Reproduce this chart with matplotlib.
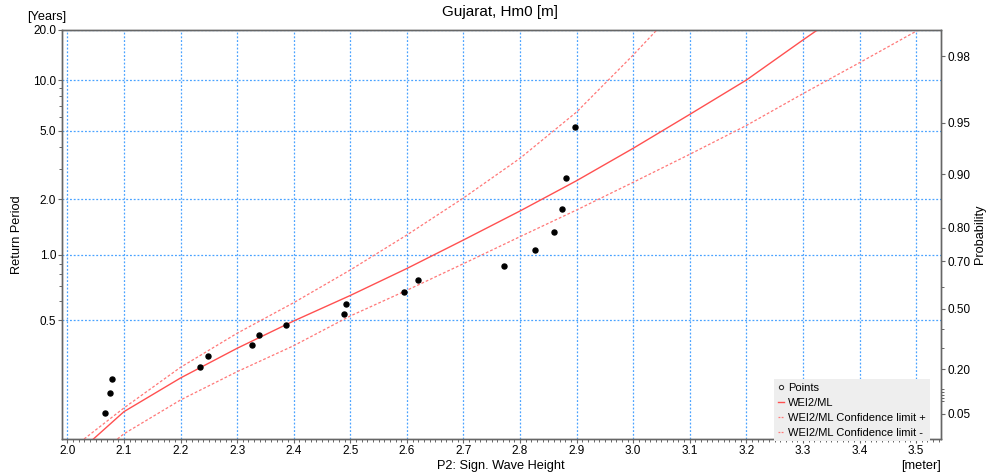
import numpy as np
import matplotlib
matplotlib.use("Agg")
import matplotlib.pyplot as plt
from matplotlib.lines import Line2D
from matplotlib.ticker import FixedLocator, FormatStrFormatter, MultipleLocator, NullFormatter

plt.rcParams['font.family'] = ['Liberation Sans', 'DejaVu Sans']

# 18 peaks in 5 years -> 3.6 events per year
EVENTS_PER_YEAR = 3.6

# observed peaks [m] and their return periods [years]
point_height = [2.067, 2.076, 2.078, 2.235, 2.248, 2.326, 2.338, 2.387, 2.488,
                2.493, 2.595, 2.619, 2.772, 2.827, 2.860, 2.874, 2.881, 2.897]
point_period = [0.293, 0.311, 0.330, 0.352, 0.377, 0.406, 0.440, 0.480, 0.528,
                0.586, 0.660, 0.754, 0.880, 1.056, 1.319, 1.759, 2.639, 5.278]

# WEI2/ML fit
fit_height = [2.046, 2.1, 2.2, 2.3, 2.4, 2.5, 2.6, 2.7, 2.8, 2.9, 3.0, 3.1, 3.2, 3.3, 3.3255]
fit_period = [0.2817, 0.2937, 0.3315, 0.3973, 0.4965, 0.6362, 0.8542, 1.197, 1.722,
              2.554, 3.936, 6.24, 10.0, 17.41, 20.0]

# confidence limits
upper_height = [2.0295, 2.1, 2.2, 2.3, 2.4, 2.5, 2.6, 2.7, 2.8, 2.9, 3.0, 3.0417]
upper_period = [0.2817, 0.2964, 0.3510, 0.4464, 0.5912, 0.8397, 1.273, 2.036, 3.441,
                6.447, 14.14, 20.0]
lower_height = [2.0884, 2.1, 2.2, 2.3, 2.4, 2.5, 2.6, 2.7, 2.8, 2.9, 3.0, 3.1, 3.2,
                3.3, 3.4, 3.5, 3.5041]
lower_period = [0.2817, 0.2831, 0.3033, 0.3425, 0.4049, 0.5198, 0.6718, 0.9027, 1.247,
                1.744, 2.500, 3.631, 5.361, 8.289, 12.71, 19.65, 20.0]

period_major = [0.5, 1.0, 2.0, 5.0, 10.0, 20.0]
period_minor = [0.6, 0.7, 0.8, 0.9, 3.0, 4.0, 6.0, 7.0, 8.0, 9.0]
prob_major = [0.05, 0.20, 0.50, 0.70, 0.80, 0.90, 0.95, 0.98]
prob_minor = [0.08, 0.09, 0.10, 0.11, 0.12, 0.30, 0.40, 0.60]

T_MIN, T_MAX = 0.2817, 20.0


def gumbel_fwd(p):
    p = np.clip(np.asarray(p, dtype=float), 1e-12, 1 - 1e-12)
    return -np.log(-np.log(p))


def gumbel_inv(u):
    return np.exp(-np.exp(-np.asarray(u, dtype=float)))


def period_to_prob(t):
    t = np.clip(np.asarray(t, dtype=float), 1.0 / EVENTS_PER_YEAR * (1 + 1e-9), None)
    return 1.0 - 1.0 / (EVENTS_PER_YEAR * t)


def prob_to_period(p):
    p = np.clip(np.asarray(p, dtype=float), None, 1 - 1e-12)
    return 1.0 / (EVENTS_PER_YEAR * (1.0 - p))


def period_fwd(t):
    return gumbel_fwd(period_to_prob(t))


def period_inv(u):
    return prob_to_period(gumbel_inv(u))


fit_col = '#ff5050'
cl_col = '#ff7878'
grid_col = '#4aa3ff'
spine_col = '#666666'

fig = plt.figure(figsize=(9.98, 4.75), dpi=100)
ax = fig.add_axes([62.3 / 998, 1 - 439 / 475, (941 - 62.3) / 998, (439 - 30) / 475])

ax.set_yscale('function', functions=(period_fwd, period_inv))
ax.set_xlim(1.991, 3.544)
ax.set_ylim(T_MIN, T_MAX)

ax.plot(upper_height, upper_period, color=cl_col, lw=0.9, ls=(0, (2.2, 1.6)), zorder=3)
ax.plot(lower_height, lower_period, color=cl_col, lw=0.9, ls=(0, (2.2, 1.6)), zorder=3)
ax.plot(fit_height, fit_period, color=fit_col, lw=1.0, zorder=3)
ax.plot(point_height, point_period, ls='none', marker='o', ms=3.6, color='black', zorder=4)

ax.xaxis.set_major_locator(MultipleLocator(0.1))
ax.xaxis.set_minor_locator(MultipleLocator(0.01))
ax.xaxis.set_major_formatter(FormatStrFormatter('%.1f'))
ax.yaxis.set_major_locator(FixedLocator(period_major))
ax.yaxis.set_minor_locator(FixedLocator(period_minor))
ax.yaxis.set_major_formatter(FormatStrFormatter('%.1f'))
ax.yaxis.set_minor_formatter(NullFormatter())

ax.grid(True, which='major', color=grid_col, ls=(0, (1.5, 1.5)), lw=0.9)
ax.set_axisbelow(True)

# probability axis on the right
ax2 = ax.twinx()
ax2.set_yscale('function', functions=(gumbel_fwd, gumbel_inv))
ax2.set_ylim(float(period_to_prob(T_MIN)), float(period_to_prob(T_MAX)))
ax2.yaxis.set_major_locator(FixedLocator(prob_major))
ax2.yaxis.set_minor_locator(FixedLocator(prob_minor))
ax2.yaxis.set_major_formatter(FormatStrFormatter('%.2f'))
ax2.yaxis.set_minor_formatter(NullFormatter())
ax2.patch.set_visible(False)

for a in (ax, ax2):
    for s in a.spines.values():
        s.set_color(spine_col)
        s.set_linewidth(1.0)
    a.tick_params(which='major', direction='out', length=3, width=0.8, color=spine_col,
                  labelsize=8.5, pad=1.5)
    a.tick_params(which='minor', direction='out', length=2, width=0.7, color=spine_col)

handles = [
    Line2D([], [], ls='none', marker='o', ms=3, mfc='white', mec='#333333', mew=0.8),
    Line2D([], [], color=fit_col, lw=1.0),
    Line2D([], [], color=cl_col, lw=0.9, ls=(0, (1.5, 1.0))),
    Line2D([], [], color=cl_col, lw=0.9, ls=(0, (1.5, 1.0))),
]
labels = ['Points', 'WEI2/ML', 'WEI2/ML Confidence limit +', 'WEI2/ML Confidence limit -']
leg = ax2.legend(handles, labels, loc='lower right', bbox_to_anchor=(0.9875, -0.006),
                 borderaxespad=0, fontsize=8, frameon=True, fancybox=False,
                 facecolor='#eeeeee', edgecolor='none', framealpha=1,
                 handlelength=0.6, handletextpad=0.35, labelspacing=0.45,
                 borderpad=0.35)
leg.set_zorder(10)

fig.text(500 / 998, 1 - 12 / 475, 'Gujarat, Hm0 [m]', ha='center', va='center', fontsize=11)
fig.text(47 / 998, 1 - 17 / 475, '[Years]', ha='center', va='center', fontsize=9.2)
fig.text(17 / 998, 1 - 235 / 475, 'Return Period', ha='center', va='center',
         rotation=90, fontsize=9.2)
fig.text(980 / 998, 1 - 234 / 475, 'Probability', ha='center', va='center',
         rotation=90, fontsize=9.2)
fig.text(501 / 998, 1 - 466 / 475, 'P2: Sign. Wave Height', ha='center', va='center',
         fontsize=9.2)
fig.text(941 / 998, 1 - 466 / 475, '[meter]', ha='right', va='center', fontsize=9.2)

fig.savefig('out.png', dpi=100)
